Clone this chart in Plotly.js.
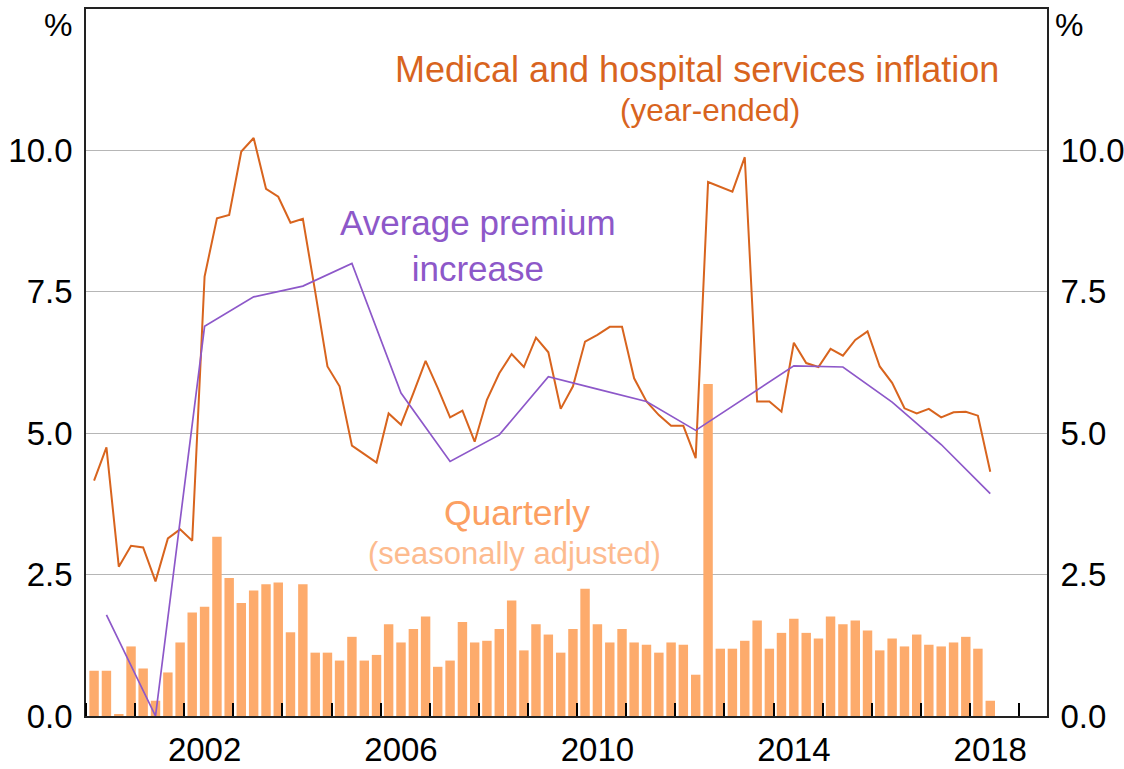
<!DOCTYPE html>
<html>
<head>
<meta charset="utf-8">
<script src="https://cdn.plot.ly/plotly-3.0.1.min.js"></script>
<style>
  html, body { margin: 0; padding: 0; background: #fff; }
  #chart { width: 1124px; height: 769px; }
</style>
</head>
<body>
<div id="chart"></div>
<script>
// quarterly series, March quarter 2000 to June quarter 2018
const first_year = 2000;
const quarter_months = ["03", "06", "09", "12"];

const medical_year_ended = [
  4.16, 4.75, 2.64, 3.01, 2.98, 2.38, 3.14, 3.30, 3.10, 7.77,
  8.80, 8.86, 9.98, 10.22, 9.32, 9.18, 8.72, 8.79, 7.50, 6.18,
  5.83, 4.78, 4.63, 4.48, 5.35, 5.15, 5.71, 6.28, 5.80, 5.28,
  5.40, 4.85, 5.59, 6.06, 6.40, 6.17, 6.69, 6.43, 5.43, 5.83,
  6.62, 6.74, 6.88, 6.88, 5.97, 5.56, 5.32, 5.13, 5.13, 4.56,
  9.44, 9.36, 9.27, 9.88, 5.56, 5.56, 5.38, 6.60, 6.24, 6.17,
  6.49, 6.37, 6.65, 6.80, 6.18, 5.89, 5.44, 5.35, 5.43, 5.28,
  5.37, 5.38, 5.31, 4.32
];

const medical_quarterly = [
  0.80, 0.80, 0.03, 1.23, 0.84, 0.27, 0.77, 1.30, 1.83, 1.93,
  3.17, 2.44, 2.00, 2.22, 2.33, 2.36, 1.48, 2.33, 1.12, 1.12,
  0.98, 1.40, 0.98, 1.08, 1.62, 1.30, 1.54, 1.76, 0.87, 0.98,
  1.66, 1.30, 1.33, 1.54, 2.04, 1.16, 1.62, 1.44, 1.12, 1.54,
  2.25, 1.62, 1.30, 1.54, 1.30, 1.26, 1.12, 1.30, 1.26, 0.73,
  5.87, 1.19, 1.19, 1.33, 1.69, 1.19, 1.47, 1.72, 1.47, 1.37,
  1.76, 1.62, 1.69, 1.51, 1.16, 1.37, 1.23, 1.44, 1.26, 1.23,
  1.30, 1.40, 1.19, 0.27
];

// annual premium round, June quarter of each year 2000-2018
const premium_increase = [
  1.79, 0.00, 6.89, 7.41, 7.60, 8.00, 5.71, 4.50, 4.97, 6.00,
  5.78, 5.56, 5.05, 5.62, 6.19, 6.17, 5.55, 4.80, 3.93
];

const year_labels = ["2002", "2006", "2010", "2014", "2018"];
const y_ticks = [0, 2.5, 5, 7.5, 10];

const colors = {
  line_orange: "#d8641e",
  bar_orange: "#fdab6c",
  purple: "#8d58c9",
  quarterly_text: "#fca062",
  sa_text: "#fdbb8f",
  grid: "#b6b6b6",
  frame: "#222222"
};

const font_family = "Liberation Sans, Arial, sans-serif";
const tick_size = 33;

let quarter_dates = medical_year_ended.map((v, i) => {
  let year = first_year + Math.floor(i / 4);
  return year + "-" + quarter_months[i % 4] + "-01";
});
let premium_dates = premium_increase.map((v, i) => (first_year + i) + "-06-01");
let label_dates = year_labels.map(y => y + "-06-01");

let data = [
  {
    x: quarter_dates,
    y: medical_quarterly,
    type: "bar",
    marker: { color: colors.bar_orange, line: { width: 0 } },
    hoverinfo: "x+y"
  },
  {
    x: quarter_dates,
    y: medical_year_ended,
    type: "scatter",
    mode: "lines",
    line: { color: colors.line_orange, width: 2 }
  },
  {
    x: premium_dates,
    y: premium_increase,
    type: "scatter",
    mode: "lines",
    line: { color: colors.purple, width: 1.7 }
  },
  // right axis carries the same scale
  {
    x: premium_dates,
    y: premium_increase,
    yaxis: "y2",
    type: "scatter",
    mode: "lines",
    line: { width: 0 },
    hoverinfo: "skip",
    showlegend: false
  }
];

let y_axis_common = {
  range: [0, 12.5],
  tickmode: "array",
  tickvals: y_ticks,
  tickformat: ".1f",
  ticks: "",
  ticklabelstandoff: 5,
  showgrid: true,
  gridcolor: colors.grid,
  gridwidth: 1.4,
  zeroline: false,
  showline: true,
  linecolor: colors.frame,
  linewidth: 1.6,
  tickfont: { family: font_family, size: tick_size, color: "#000" },
  fixedrange: true
};

function text_note(text, x, y, size, color, xanchor) {
  return {
    text: text,
    xref: "paper",
    yref: "y",
    x: x,
    y: y,
    xanchor: xanchor || "center",
    yanchor: "middle",
    showarrow: false,
    font: { family: font_family, size: size, color: color }
  };
}

let layout = {
  width: 1124,
  height: 769,
  margin: { l: 86, r: 77, t: 9, b: 53, pad: 0 },
  paper_bgcolor: "#ffffff",
  plot_bgcolor: "#ffffff",
  showlegend: false,
  bargap: 0.22,
  xaxis: {
    type: "date",
    range: ["2000-01-01", "2019-07-28"],
    tickmode: "array",
    tickvals: label_dates,
    ticktext: year_labels,
    ticks: "",
    ticklabelstandoff: 4,
    showgrid: false,
    zeroline: false,
    showline: true,
    mirror: true,
    linecolor: colors.frame,
    linewidth: 1.6,
    tickfont: { family: font_family, size: tick_size, color: "#000" },
    minor: {
      tick0: "2000-01-01",
      dtick: "M12",
      ticks: "inside",
      ticklen: 13,
      tickwidth: 1.5,
      tickcolor: "#000",
      showgrid: false
    },
    fixedrange: true
  },
  yaxis: Object.assign({}, y_axis_common, { side: "left" }),
  yaxis2: Object.assign({}, y_axis_common, {
    side: "right",
    overlaying: "y",
    showgrid: false
  }),
  annotations: [
    text_note("%", -0.012, 12.22, 32, "#000", "right"),
    text_note("%", 1.006, 12.22, 32, "#000", "left"),
    text_note("Medical and hospital services inflation", 0.636, 11.43, 36, colors.line_orange),
    text_note("(year-ended)", 0.649, 10.72, 31.5, colors.line_orange),
    text_note("Average premium<br>increase", 0.408, 8.31, 35, colors.purple),
    text_note("Quarterly", 0.4485, 3.59, 35.5, colors.quarterly_text),
    text_note("(seasonally adjusted)", 0.446, 2.88, 31, colors.sa_text)
  ]
};

Plotly.newPlot("chart", data, layout, { displayModeBar: false, responsive: false });
</script>
</body>
</html>
